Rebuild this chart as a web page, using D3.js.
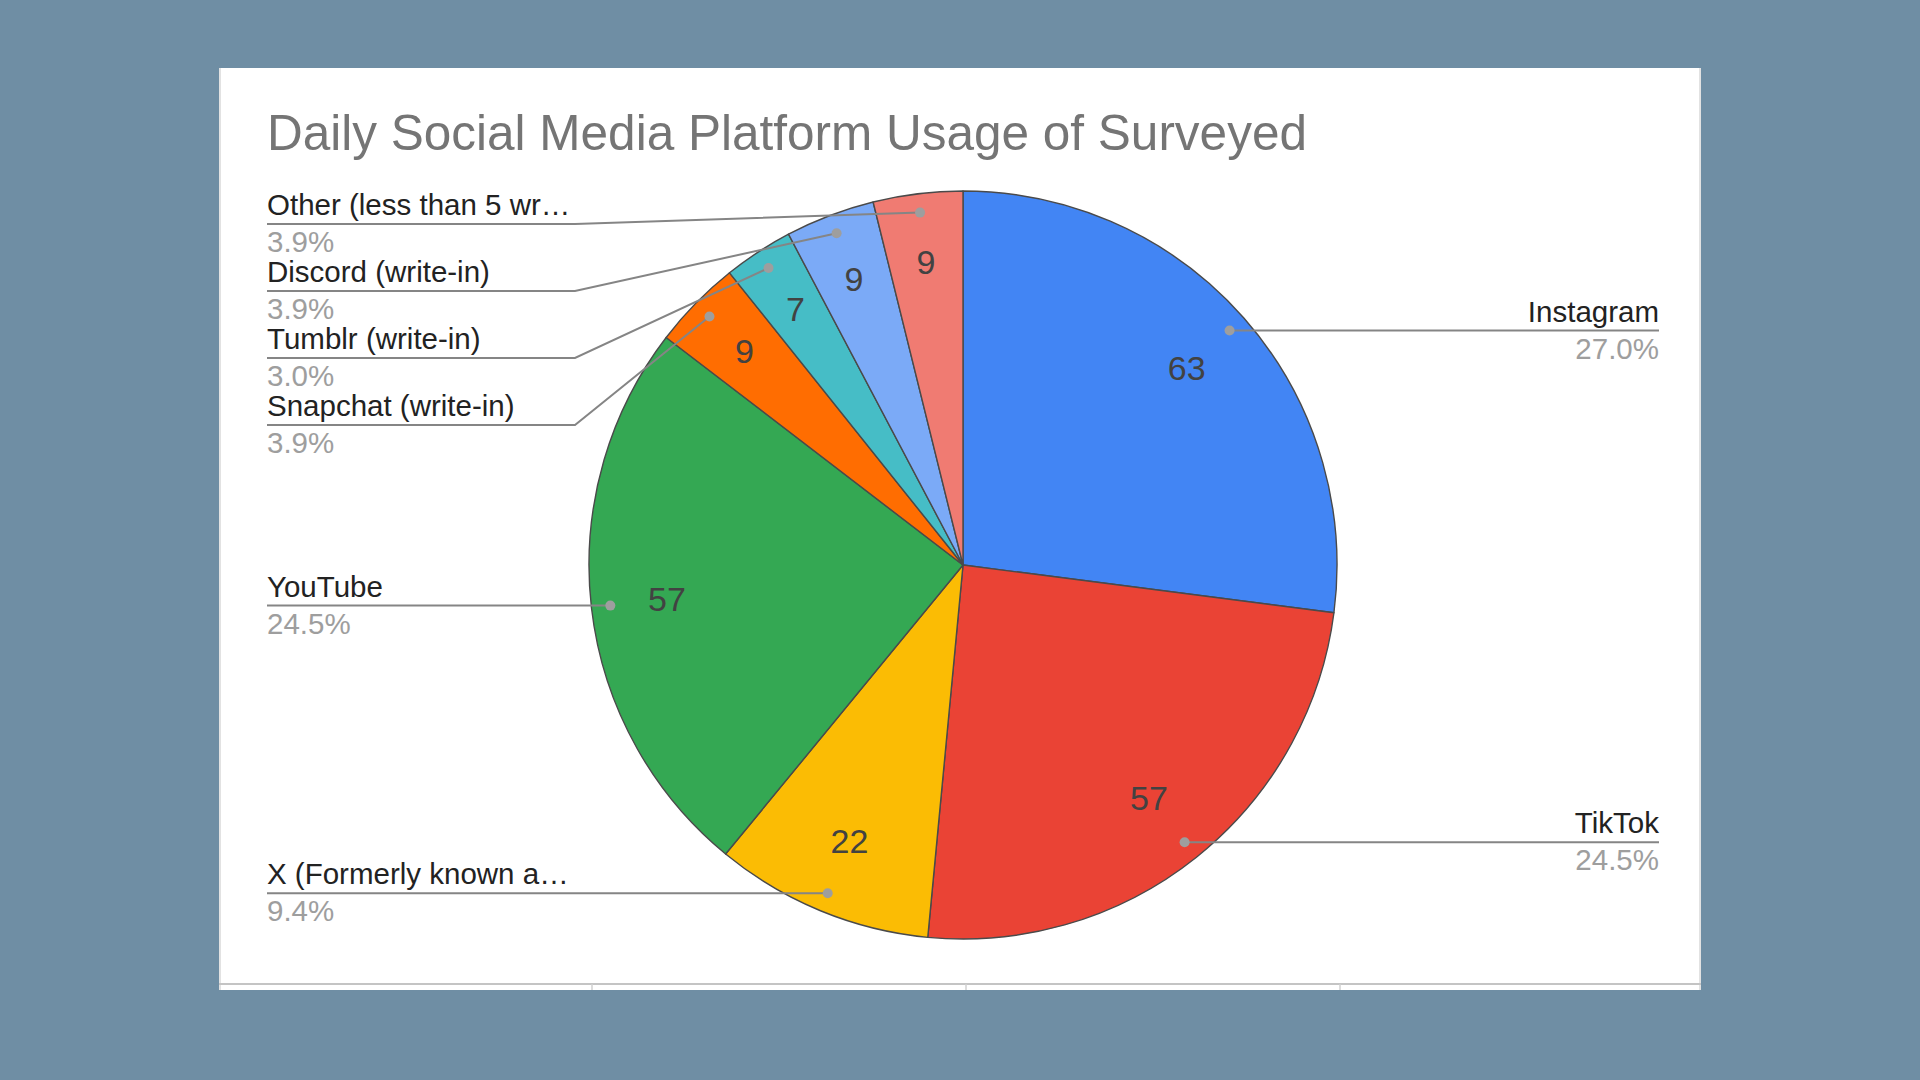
<!DOCTYPE html>
<html>
<head>
<meta charset="utf-8">
<script src="https://cdn.jsdelivr.net/npm/d3@7"></script>
<style>
  html, body { margin: 0; padding: 0; background: #6f8ea4; }
  svg { display: block; }
  text { font-family: Arial, "Liberation Sans", sans-serif; }
</style>
</head>
<body>
<svg id="chart" width="1920" height="1080"></svg>
<script>
// ---- data ----
const title = "Daily Social Media Platform Usage of Surveyed";
const categories = ["Instagram", "TikTok", "X (Formerly known a\u2026", "YouTube",
  "Snapchat (write-in)", "Tumblr (write-in)", "Discord (write-in)", "Other (less than 5 wr\u2026"];
const values = [63, 57, 22, 57, 9, 7, 9, 9];
const colors = ["#4285f4", "#ea4335", "#fbbc04", "#34a853", "#ff6d01", "#46bdc6", "#7baaf7", "#f07b72"];

// ---- layout ----
const W = 1920, H = 1080;
const card = {x: 219, y: 68, w: 1482, h: 922};
const cx = 963, cy = 565, R = 374;
const dotR = 355;
const leftX = 267, rightX = 1659, elbowX = 575;
const labelTopMin = 224, labelStep = 67;
const labelSize = 29.5;

const svg = d3.select("#chart");
svg.append("rect").attr("width", W).attr("height", H).attr("fill", "#6f8ea4");
svg.append("rect").attr("x", card.x).attr("y", card.y).attr("width", card.w).attr("height", card.h).attr("fill", "#ffffff");
// faint card edges
svg.append("line").attr("x1", card.x + 1).attr("x2", card.x + 1).attr("y1", card.y).attr("y2", card.y + card.h)
  .attr("stroke", "#d9d9d9").attr("stroke-width", 1.5);
svg.append("line").attr("x1", card.x + card.w - 1).attr("x2", card.x + card.w - 1).attr("y1", card.y).attr("y2", card.y + card.h)
  .attr("stroke", "#d9d9d9").attr("stroke-width", 1.5);
// bottom rule with ticks
const ruleY = card.y + card.h - 6;
svg.append("line").attr("x1", card.x).attr("x2", card.x + card.w).attr("y1", ruleY).attr("y2", ruleY)
  .attr("stroke", "#c4c4c4").attr("stroke-width", 2);
const tickScale = d3.scaleLinear().domain([-1, 1]).range([cx - R + 3, cx + R + 3]);
svg.selectAll(".tk").data([-1, 0, 1]).enter().append("line")
  .attr("x1", d => tickScale(d)).attr("x2", d => tickScale(d))
  .attr("y1", ruleY).attr("y2", card.y + card.h)
  .attr("stroke", "#d0d0d0").attr("stroke-width", 1.5);

// title
svg.append("text").attr("x", 267).attr("y", 150)
  .attr("font-size", 49.5).attr("fill", "#757575").text(title);

const total = d3.sum(values);
const data = categories.map((c, i) => ({name: c, value: values[i], color: colors[i]}));
const pie = d3.pie().sort(null).value(d => d.value);
const arcs = pie(data);
const arc = d3.arc().innerRadius(0).outerRadius(R);

const g = svg.append("g").attr("transform", `translate(${cx},${cy})`);
g.selectAll("path.slice").data(arcs).enter().append("path")
  .attr("class", "slice")
  .attr("d", arc)
  .attr("fill", d => d.data.color)
  .attr("stroke", "#4a4a4a").attr("stroke-width", 1.4).attr("stroke-linejoin", "round");

// value labels (small slices sit a little further out)
const valRadius = d => (d.endAngle - d.startAngle) > 0.5 ? 298 : 306;
g.selectAll("text.val").data(arcs).enter().append("text")
  .attr("class", "val")
  .attr("x", d => d3.arc().innerRadius(valRadius(d)).outerRadius(valRadius(d)).centroid(d)[0])
  .attr("y", d => d3.arc().innerRadius(valRadius(d)).outerRadius(valRadius(d)).centroid(d)[1])
  .attr("dy", "0.36em")
  .attr("text-anchor", "middle")
  .attr("font-size", 34).attr("fill", "#424242")
  .text(d => d.data.value);

// leader dots & labels
const dotArc = d3.arc().innerRadius(dotR).outerRadius(dotR);
const items = arcs.map(a => {
  const [dx, dy] = dotArc.centroid(a);
  const mid = (a.startAngle + a.endAngle) / 2;
  return {a, px: cx + dx, py: cy + dy, side: mid < Math.PI ? "right" : "left"};
});
["left", "right"].forEach(side => {
  const s = items.filter(d => d.side === side).sort((p, q) => p.py - q.py);
  let prev = -Infinity;
  s.forEach(d => {
    d.ly = Math.max(d.py, prev + labelStep, labelTopMin);
    prev = d.ly;
  });
});

const lines = svg.append("g");
items.forEach(d => {
  let pts;
  if (d.side === "left") {
    pts = Math.abs(d.ly - d.py) < 1
      ? [[leftX, d.ly], [d.px, d.py]]
      : [[leftX, d.ly], [elbowX, d.ly], [d.px, d.py]];
  } else {
    pts = Math.abs(d.ly - d.py) < 1
      ? [[rightX, d.ly], [d.px, d.py]]
      : [[rightX, d.ly], [rightX - (elbowX - leftX), d.ly], [d.px, d.py]];
  }
  lines.append("path").attr("d", d3.line()(pts))
    .attr("fill", "none").attr("stroke", "#858585").attr("stroke-width", 2);
  lines.append("circle").attr("cx", d.px).attr("cy", d.py).attr("r", 5).attr("fill", "#9e9e9e");
  const x = d.side === "left" ? leftX : rightX;
  const anchor = d.side === "left" ? "start" : "end";
  lines.append("text").attr("x", x).attr("y", d.ly - 9)
    .attr("text-anchor", anchor).attr("font-size", labelSize).attr("fill", "#222222")
    .text(d.a.data.name);
  lines.append("text").attr("x", x).attr("y", d.ly + 28)
    .attr("text-anchor", anchor).attr("font-size", labelSize).attr("fill", "#9e9e9e")
    .text((d.a.data.value / total * 100).toFixed(1) + "%");
});
</script>
</body>
</html>
